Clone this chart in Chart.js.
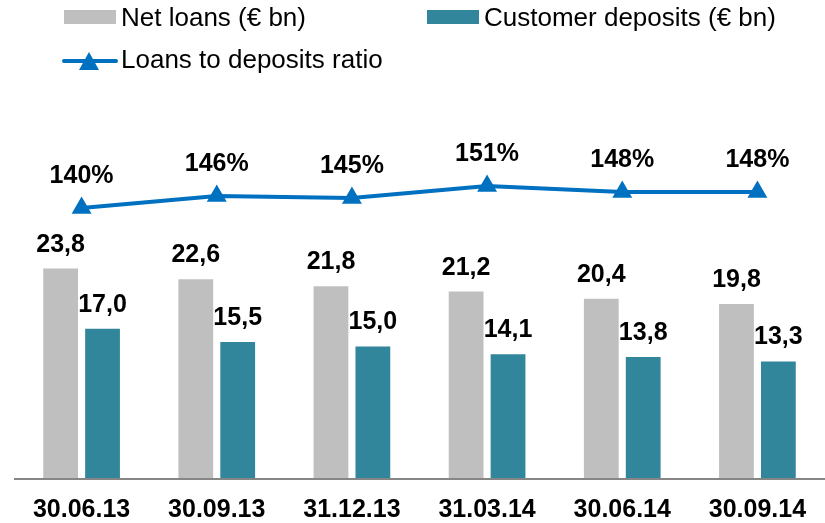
<!DOCTYPE html>
<html>
<head>
  <title>Loans and deposits</title>
  <script src="https://cdn.jsdelivr.net/npm/chart.js"></script>
  <style>
    html, body { margin: 0; padding: 0; background: #fff; overflow: hidden; }
    #wrap { position: relative; width: 825px; height: 523px; }
    canvas { display: block; }
  </style>
</head>
<body>
  <div id="wrap"><canvas id="chart" width="825" height="523"></canvas></div>

  <script>
    const dates = ['30.06.13', '30.09.13', '31.12.13', '31.03.14', '30.06.14', '30.09.14'];
    const netLoans = [23.8, 22.6, 21.8, 21.2, 20.4, 19.8];
    const deposits = [17.0, 15.5, 15.0, 14.1, 13.8, 13.3];
    const ratio = [140, 146, 145, 151, 148, 148];

    const GREY = '#bfbfbf';
    const TEAL = '#31869b';
    const BLUE = '#0070c0';
    const FONT = '"Liberation Sans", Arial, sans-serif';

    const fmt = v => v.toFixed(1).replace('.', ',');

    // labels, axis line and legend drawn by hand
    const decor = {
      id: 'decor',
      afterDatasetsDraw(chart) {
        const c = chart.ctx;
        const area = chart.chartArea;
        const x = chart.scales.x;
        c.save();

        // axis line
        c.strokeStyle = '#868686';
        c.lineWidth = 2;
        c.beginPath();
        c.moveTo(area.left, area.bottom);
        c.lineTo(area.right, area.bottom);
        c.stroke();

        c.fillStyle = '#000';
        c.textAlign = 'center';
        c.textBaseline = 'alphabetic';
        c.font = 'bold 25px ' + FONT;

        // bar values
        [0, 1].forEach(i => {
          const data = chart.data.datasets[i].data;
          chart.getDatasetMeta(i).data.forEach((bar, j) => {
            c.fillText(fmt(data[j]), bar.x, bar.y - 17);
          });
        });
        // ratio values
        chart.getDatasetMeta(2).data.forEach((pt, j) => {
          c.fillText(ratio[j] + '%', pt.x, pt.y - 25);
        });
        // category labels
        dates.forEach((d, j) => {
          c.fillText(d, x.getPixelForValue(j), 517);
        });

        // legend
        c.textAlign = 'left';
        c.font = '26px ' + FONT;
        c.fillStyle = GREY;
        c.fillRect(64, 10, 52, 14);
        c.fillStyle = TEAL;
        c.fillRect(427, 10, 52, 14);
        c.fillStyle = '#000';
        c.fillText('Net loans (€ bn)', 121, 26);
        c.fillText('Customer deposits (€ bn)', 484, 26);

        c.strokeStyle = BLUE;
        c.lineWidth = 4;
        c.lineCap = 'round';
        c.beginPath();
        c.moveTo(64, 61);
        c.lineTo(116, 61);
        c.stroke();
        c.fillStyle = BLUE;
        c.beginPath();
        c.moveTo(89, 52);
        c.lineTo(99, 70);
        c.lineTo(79, 70);
        c.closePath();
        c.fill();
        c.fillStyle = '#000';
        c.fillText('Loans to deposits ratio', 121, 68);

        c.restore();
      }
    };

    new Chart(document.getElementById('chart'), {
      type: 'bar',
      data: {
        labels: dates,
        datasets: [
          {
            label: 'Net loans (€ bn)',
            data: netLoans,
            backgroundColor: GREY,
            yAxisID: 'y',
            order: 2
          },
          {
            label: 'Customer deposits (€ bn)',
            data: deposits,
            backgroundColor: TEAL,
            yAxisID: 'y',
            order: 2
          },
          {
            type: 'line',
            label: 'Loans to deposits ratio',
            data: ratio,
            borderColor: BLUE,
            backgroundColor: BLUE,
            borderWidth: 4,
            pointStyle: 'triangle',
            pointRadius: 11.5,
            pointHoverRadius: 11.5,
            pointBorderWidth: 0,
            tension: 0,
            clip: false,
            yAxisID: 'y2',
            order: 1
          }
        ]
      },
      options: {
        responsive: false,
        animation: false,
        events: [],
        layout: { autoPadding: false, padding: { left: 14, right: 0, top: 90, bottom: 44 } },
        datasets: {
          bar: { categoryPercentage: 0.62, barPercentage: 0.83 }
        },
        plugins: {
          legend: { display: false },
          tooltip: { enabled: false }
        },
        scales: {
          x: { display: false },
          y: { display: false, min: 0, max: 44 },
          y2: { display: false, min: 4.5, max: 199 }
        }
      },
      plugins: [decor]
    });
  </script>
</body>
</html>
